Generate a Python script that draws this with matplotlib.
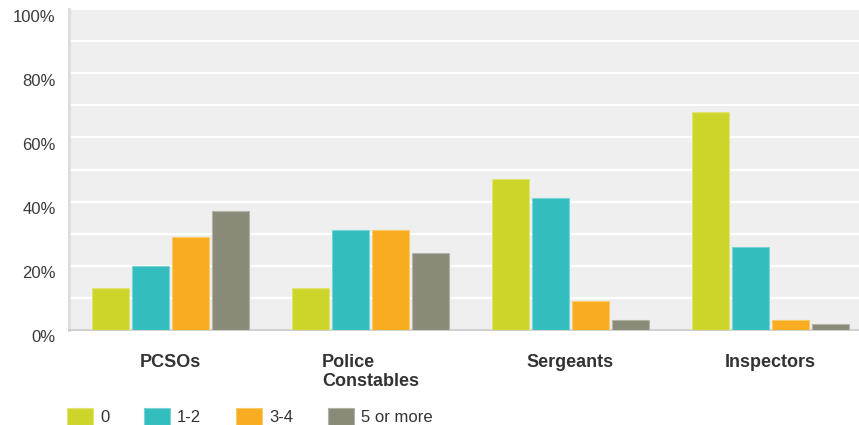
import matplotlib
matplotlib.use("Agg")
import matplotlib.pyplot as plt
import matplotlib.colors as mcolors
from matplotlib.transforms import ScaledTranslation
import numpy as np

# data (percent)
categories = ["PCSOs", "Police\nConstables", "Sergeants", "Inspectors"]
series_names = ["0", "1-2", "3-4", "5 or more"]
vals_0 = [13, 13, 47, 68]
vals_1_2 = [20, 31, 41, 26]
vals_3_4 = [29, 31, 9, 3]
vals_5_more = [37, 24, 3, 2]
y_ticks = [0, 20, 40, 60, 80, 100]
y_labels = ["0%", "20%", "40%", "60%", "80%", "100%"]

colors = ["#cdd52a", "#33bdbf", "#f7ad1f", "#8a8a78"]

plt.rcParams['font.family'] = ['Liberation Sans', 'DejaVu Sans']

W, H = 859, 425
fig = plt.figure(figsize=(W / 100, H / 100), dpi=100)
ax = fig.add_axes([69 / W, 1 - 330 / H, 1 - 69 / W, (330 - 9) / H])
ax.set_facecolor("#efefef")

x = np.arange(len(categories))
pitch = 40 / 200
bw = 37.5 / 200
all_vals = [vals_0, vals_1_2, vals_3_4, vals_5_more]
for i, (name, v, c) in enumerate(zip(series_names, all_vals, colors)):
    rgb = np.array(mcolors.to_rgb(c))
    edge = rgb + (1 - rgb) * 0.35
    ax.bar(x + (i - 1.5) * pitch, v, width=bw, color=c, edgecolor=edge,
           linewidth=0.8, label=name, zorder=3)

ax.set_xlim(-0.5075, 3.4425)
ax.set_ylim(0, 100)
ax.set_axisbelow(True)
ax.set_yticks(y_ticks)
ax.set_yticks(np.arange(10, 100, 20), minor=True)
ax.yaxis.grid(True, which="both", color="white", linewidth=1.6)
ax.set_yticklabels(y_labels, fontsize=12, color="#3a3a3a")
ax.tick_params(axis="y", which="both", length=0, pad=9.5)
for lab in ax.get_yticklabels():
    lab.set_transform(lab.get_transform() + ScaledTranslation(0, -0.065, fig.dpi_scale_trans))

ax.set_xticks(x)
ax.set_xticklabels(categories, fontsize=13, fontweight="bold", color="#333333",
                   multialignment="left", linespacing=1.2)
ax.tick_params(axis="x", length=0, pad=17)

for s in ["top", "right"]:
    ax.spines[s].set_visible(False)
ax.spines["left"].set_color("#dcdcdc")
ax.spines["left"].set_linewidth(2)
ax.spines["bottom"].set_color("#c8c8c8")
ax.spines["bottom"].set_linewidth(1.2)

leg = ax.legend(loc="upper left", bbox_to_anchor=(67 / W, 1 - 408 / H),
                bbox_transform=fig.transFigure, ncol=4, frameon=False,
                fontsize=12, handlelength=1.53, handleheight=1.15,
                handletextpad=0.45, columnspacing=2.1, borderpad=0,
                borderaxespad=0)
for t in leg.get_texts():
    t.set_color("#333333")

fig.savefig("out.png", dpi=100)
